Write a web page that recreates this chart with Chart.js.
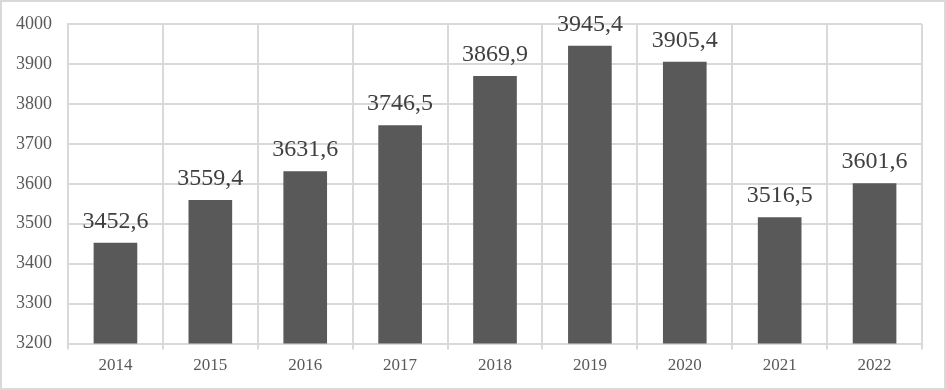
<!DOCTYPE html>
<html>
<head>
  <title>Bar chart 2014-2022</title>
  <script src="https://cdn.jsdelivr.net/npm/chart.js"></script>
  <style>
    html, body {
      margin: 0;
      padding: 0;
      background: white;
    }

    .frame {
      width: 942px;
      height: 386px;
      border: 2px solid #d9d9d9;
      position: relative;
    }
  </style>
</head>
<body>

  <div class="frame">
    <canvas id="barChart"></canvas>
  </div>

  <script>
    const years = ["2014", "2015", "2016", "2017", "2018", "2019", "2020", "2021", "2022"];
    const values = [3452.6, 3559.4, 3631.6, 3746.5, 3869.9, 3945.4, 3905.4, 3516.5, 3601.6];
    const yMin = 3200;
    const yMax = 4000;
    const yStep = 100;

    const fmt = v => v.toFixed(1).replace(".", ",");
    const serif = "'Liberation Serif', 'Times New Roman', serif";

    // value labels above each bar
    const valueLabels = {
      id: "valueLabels",
      afterDatasetsDraw(chart) {
        const ctx = chart.ctx;
        const meta = chart.getDatasetMeta(0);
        ctx.save();
        ctx.font = "24px " + serif;
        ctx.fillStyle = "#404040";
        ctx.textAlign = "center";
        ctx.textBaseline = "alphabetic";
        meta.data.forEach((bar, i) => {
          ctx.fillText(fmt(values[i]), bar.x, bar.y - 15);
        });
        ctx.restore();
      }
    };

    const ctx = document.getElementById("barChart").getContext("2d");
    new Chart(ctx, {
      type: "bar",
      data: {
        labels: years,
        datasets: [{
          data: values,
          backgroundColor: "#595959",
          barPercentage: 0.46,
          categoryPercentage: 1
        }]
      },
      options: {
        responsive: true,
        maintainAspectRatio: false,
        animation: false,
        layout: {
          padding: { left: -2, right: 22, top: 0, bottom: 6 }
        },
        plugins: {
          legend: { display: false },
          tooltip: { enabled: false }
        },
        scales: {
          x: {
            grid: {
              color: "#d9d9d9",
              lineWidth: 2,
              offset: true,
              tickLength: 6
            },
            border: { color: "#d9d9d9", width: 2 },
            ticks: {
              color: "#595959",
              font: { family: serif, size: 17 },
              padding: 6
            }
          },
          y: {
            min: yMin,
            max: yMax,
            grid: {
              color: "#d9d9d9",
              lineWidth: 2,
              drawTicks: false
            },
            border: { color: "#d9d9d9", width: 2 },
            ticks: {
              stepSize: yStep,
              color: "#595959",
              // small lineHeight keeps the top of the plot close to the frame
              font: { family: serif, size: 18, lineHeight: 0.667 },
              padding: 16,
              callback: v => String(v)
            }
          }
        }
      },
      plugins: [valueLabels]
    });
  </script>

</body>
</html>
